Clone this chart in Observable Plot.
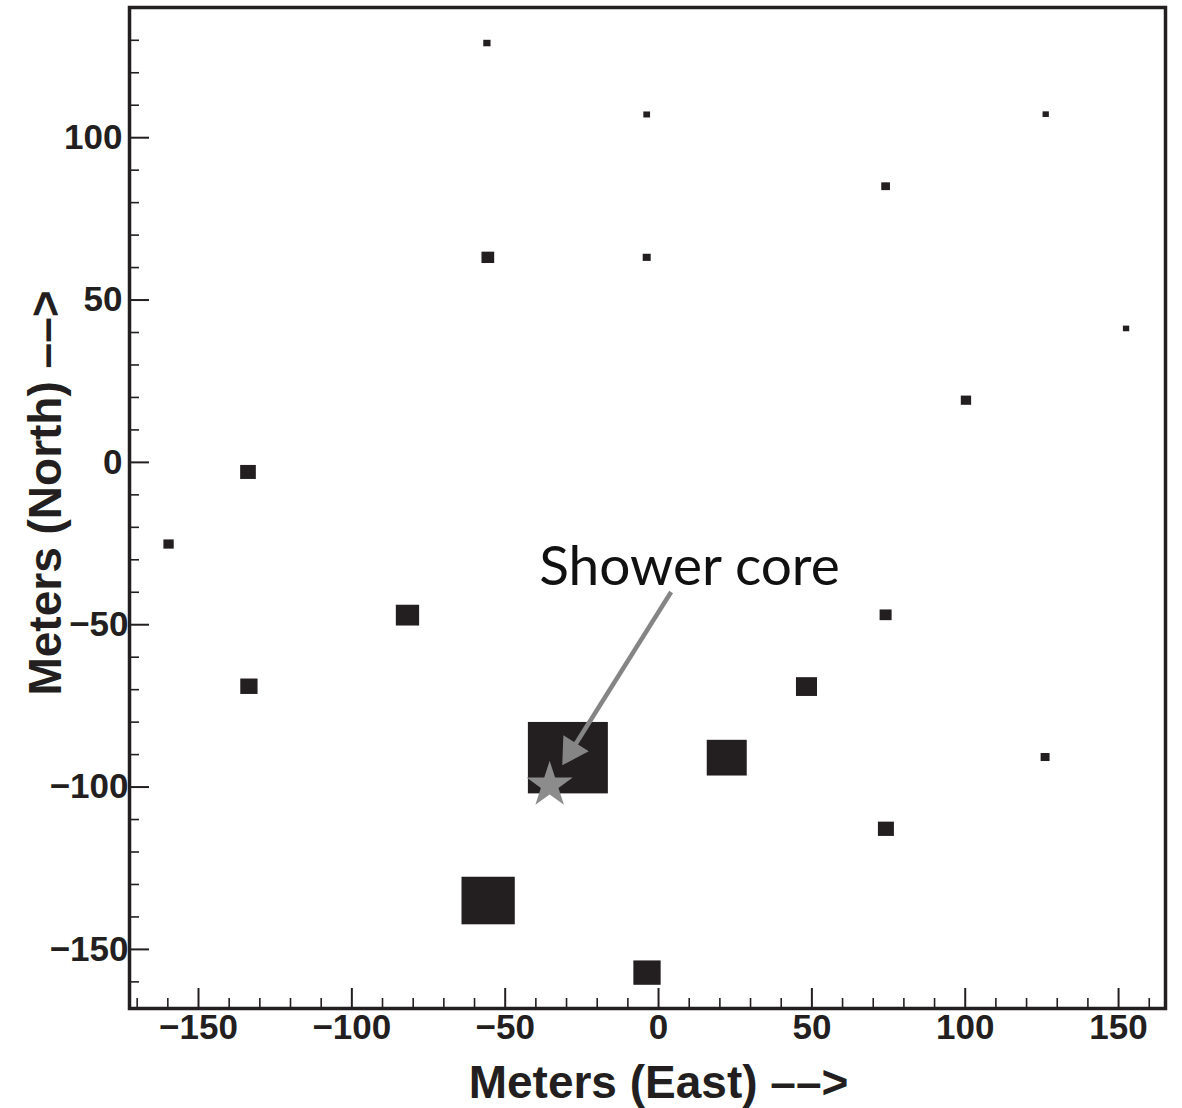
<!DOCTYPE html>
<html><head><meta charset="utf-8">
<script src="https://cdn.jsdelivr.net/npm/d3@7"></script>
<script src="https://cdn.jsdelivr.net/npm/@observablehq/plot@0.6"></script>
<style>
body{margin:0;background:#fff}
#chart svg{display:block}
</style>
</head><body><div id="chart"></div>
<script>
// Detector positions (meters East / North) and relative signal (largest = 100)
const detectorEast  = [-55.8, -3.7, 126.4, 74.2, -55.5, -3.7, 152.6, 100.4, -133.7, -159.6, -81.7, 74.2, -133.4, 48.4, -29.4, 22.4, 126.2, 74.3, -55.4, -3.6];
const detectorNorth = [129.0, 107.0, 107.1, 84.9, 63.0, 63.0, 41.1, 19.0, -3.1, -25.3, -47.2, -47.1, -69.1, -69.2, -91.1, -91.1, -90.9, -113.0, -135.1, -157.3];
const signal        = [9.1, 8.4, 7.9, 10.9, 15.9, 10.0, 7.9, 12.9, 19.6, 12.9, 29.1, 15.0, 21.6, 26.3, 100, 50, 11.2, 20.0, 66.6, 34.1];

// Shower core annotation
const coreEast = [-35.5];
const coreNorth = [-99.4];
const coreLabel = ["Shower core"];
const labelEast = [10.1];
const labelNorth = [-32.2];
const arrowFromEast = [4.1], arrowFromNorth = [-39.9];
const arrowToEast = [-31.4], arrowToNorth = [-93.3];

// Axes
const xDomain = [-172.5, 165.3];
const yDomain = [-168.2, 140.1];
const xMajor = [-150, -100, -50, 0, 50, 100, 150];
const yMajor = [-150, -100, -50, 0, 50, 100];
const xMinor = d3.range(-170, 170, 10).filter(v => v % 50 !== 0);
const yMinor = d3.range(-160, 140, 10).filter(v => v % 50 !== 0);
const xTitle = "Meters (East) \u2013\u2013>";
const yTitle = "Meters (North) \u2013\u2013>";

const W = 1182, H = 1108;
const mL = 129, mR = 17, mT = 7, mB = 100;
const plotW = W - mL - mR, plotH = H - mT - mB;
const ink = "#231f20";
const grey = "#858585";
const fmt = d => d < 0 ? "\u2212" + Math.abs(d) : String(d);

// screen-space helpers (same scales as the plot) for the arrow head orientation
const sx = Plot.scale({x: {domain: xDomain, range: [mL, W - mR]}});
const sy = Plot.scale({y: {domain: yDomain, range: [H - mB, mT]}});
const headLen = 26; // px, tip to base

const detectors = detectorEast.map((x, i) => ({x, y: detectorNorth[i], s: signal[i]}));
const core = coreEast.map((x, i) => ({x, y: coreNorth[i]}));
const labels = coreLabel.map((t, i) => ({t, x: labelEast[i], y: labelNorth[i]}));
const arrows = arrowFromEast.map((x1, i) => {
  const x2 = arrowToEast[i], y2 = arrowToNorth[i], y1 = arrowFromNorth[i];
  const px1 = sx.apply(x1), py1 = sy.apply(y1), px2 = sx.apply(x2), py2 = sy.apply(y2);
  const len = Math.hypot(px2 - px1, py2 - py1);
  const ux = (px2 - px1) / len, uy = (py2 - py1) / len;
  const cx = sx.invert(px2 - ux * headLen * 2 / 3), cy = sy.invert(py2 - uy * headLen * 2 / 3);
  const bx = sx.invert(px2 - ux * headLen * 0.8), by = sy.invert(py2 - uy * headLen * 0.8);
  const angle = Math.atan2(ux, -uy) * 180 / Math.PI;
  return {x1, y1, bx, by, cx, cy, angle};
});
// d3 triangle: tip distance = 2a, head length = 3a, area = 3*sqrt(3)*a^2
const a = headLen / 3;
const headR = Math.sqrt(3 * Math.sqrt(3) * a * a / Math.PI);

const chart = Plot.plot({
  width: W, height: H,
  marginLeft: mL, marginRight: mR, marginTop: mT, marginBottom: mB,
  x: {domain: xDomain, axis: null},
  y: {domain: yDomain, axis: null},
  style: {background: "#fff", fontFamily: "'Liberation Sans', Arial, sans-serif", overflow: "visible"},
  marks: [
    Plot.rect(detectors, {
      x1: d => d.x - d.s * 0.1304, x2: d => d.x + d.s * 0.1304,
      y1: d => d.y - d.s * 0.110, y2: d => d.y + d.s * 0.110,
      fill: ink
    }),
    Plot.link(arrows, {x1: "x1", y1: "y1", x2: "bx", y2: "by", stroke: grey, strokeWidth: 4.5}),
    Plot.dot(arrows, {x: "cx", y: "cy", symbol: "triangle", r: headR, rotate: "angle", fill: grey, stroke: "none"}),
    Plot.dot(core, {x: "x", y: "y", symbol: "star", r: 14.5, fill: "#8c8c8c", stroke: "none"}),
    Plot.text(labels, {x: "x", y: "y", text: "t", fontSize: 55, fontFamily: "Lato, 'Open Sans', sans-serif", fill: "#111", textAnchor: "middle"}),
    // inward ticks
    Plot.tickX(xMajor, {x: d => d, insetTop: plotH - 20, stroke: ink, strokeWidth: 2}),
    Plot.tickX(xMinor, {x: d => d, insetTop: plotH - 10, stroke: ink, strokeWidth: 1.6}),
    Plot.tickY(yMajor, {y: d => d, insetRight: plotW - 20, stroke: ink, strokeWidth: 2}),
    Plot.tickY(yMinor, {y: d => d, insetRight: plotW - 10, stroke: ink, strokeWidth: 1.6}),
    Plot.frame({stroke: ink, strokeWidth: 3.5}),
    // tick labels
    Plot.text(xMajor, {x: d => d, text: fmt, frameAnchor: "bottom", lineAnchor: "top", dy: 6, fontSize: 35, fontWeight: "bold", fill: ink}),
    Plot.text(yMajor.filter(d => d >= 0), {y: d => d, text: fmt, frameAnchor: "left", textAnchor: "end", dx: -7, fontSize: 35, fontWeight: "bold", fill: ink}),
    Plot.text(yMajor.filter(d => d < 0), {y: d => d, text: fmt, frameAnchor: "left", textAnchor: "end", dx: -1, fontSize: 35, fontWeight: "bold", fill: ink}),
    // axis titles
    Plot.text([xTitle], {frameAnchor: "bottom", textAnchor: "middle", lineAnchor: "bottom", dx: 11, dy: 89, fontSize: 46, fontWeight: "bold", fill: ink}),
    Plot.text([yTitle], {frameAnchor: "left", textAnchor: "middle", lineAnchor: "top", rotate: -90, dx: -101, dy: -15, fontSize: 46, fontWeight: "bold", fill: ink})
  ]
});
document.getElementById("chart").appendChild(chart);
</script>
</body></html>
